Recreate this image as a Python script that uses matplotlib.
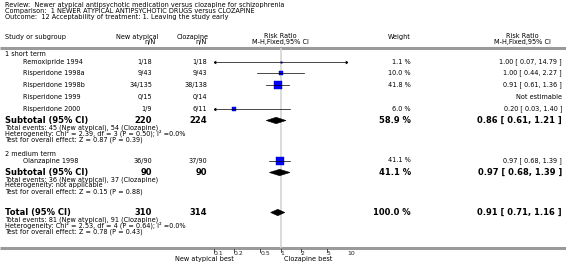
import matplotlib
matplotlib.use('Agg')
import matplotlib.pyplot as plt
from matplotlib.patches import Polygon
import numpy as np

W, H, DPI = 566, 272, 100

# ---------------- data ----------------
review = "Review:  Newer atypical antipsychotic medication versus clozapine for schizophrenia"
comparison = "Comparison:  1 NEWER ATYPICAL ANTIPSYCHOTIC DRUGS versus CLOZAPINE"
outcome = "Outcome:  12 Acceptability of treatment: 1. Leaving the study early"

groups = ["1 short term", "2 medium term"]
studies = [["Remoxipride 1994", "Risperidone 1998a", "Risperidone 1998b",
            "Risperidone 1999", "Risperidone 2000"], ["Olanzapine 1998"]]
new_nN = [["1/18", "9/43", "34/135", "0/15", "1/9"], ["36/90"]]
cloz_nN = [["1/18", "9/43", "38/138", "0/14", "6/11"], ["37/90"]]
weights = [[1.1, 10.0, 41.8, None, 6.0], [41.1]]
rr = [[1.00, 1.00, 0.91, None, 0.20], [0.97]]
rr_lo = [[0.07, 0.44, 0.61, None, 0.03], [0.68]]
rr_hi = [[14.79, 2.27, 1.36, None, 1.40], [1.39]]

sub_new_N = [220, 90]
sub_cloz_N = [224, 90]
sub_weight = [58.9, 41.1]
sub_rr = [0.86, 0.97]
sub_lo = [0.61, 0.68]
sub_hi = [1.21, 1.39]
sub_events = ["Total events: 45 (New atypical), 54 (Clozapine)",
              "Total events: 36 (New atypical), 37 (Clozapine)"]
sub_het = ["Heterogeneity: Chi² = 2.39, df = 3 (P = 0.50); I² =0.0%",
           "Heterogeneity: not applicable"]
sub_test = ["Test for overall effect: Z = 0.87 (P = 0.39)",
            "Test for overall effect: Z = 0.15 (P = 0.88)"]

total_new_N = 310
total_cloz_N = 314
total_weight = 100.0
total_rr, total_lo, total_hi = 0.91, 0.71, 1.16
total_events = "Total events: 81 (New atypical), 91 (Clozapine)"
total_het = "Heterogeneity: Chi² = 2.53, df = 4 (P = 0.64); I² =0.0%"
total_test = "Test for overall effect: Z = 0.78 (P = 0.43)"

ticks = [0.1, 0.2, 0.5, 1, 2, 5, 10]
tick_labels = ["0.1", "0.2", "0.5", "1", "2", "5", "10"]
left_label = "New atypical best"
right_label = "Clozapine best"

# ---------------- layout ----------------
group_y = [54.5, 153.5]
study_y = [[62, 73, 85, 97, 109], [160.5]]
sub_y = [120.5, 172.5]
stat_dy = [6.8, 13.0, 19.0]
total_y = 212.5

X_LEFT = 5
X_STUDY = 23
X_NEW = 152
X_NEWH = 158
X_CLOZ = 207
X_CLOZH = 209
X_WEIGHT = 411
X_RR = 562
X_RRH = 522
FX0, FX1 = 214, 347          # pixel span of 0.1 .. 10
AXIS_Y = 248

FS = 4.7
FSB = 6.0
TXT = '#000000'

fig = plt.figure(figsize=(W / DPI, H / DPI), dpi=DPI)
fig.patch.set_facecolor('white')
tx = fig.add_axes([0, 0, 1, 1])
tx.set_xlim(0, W)
tx.set_ylim(H, 0)
tx.axis('off')

ax = fig.add_axes([FX0 / W, 0, (FX1 - FX0) / W, 1])
ax.set_xscale('log')
ax.set_xlim(0.1, 10)
ax.set_ylim(H, 0)
ax.axis('off')
ax.patch.set_alpha(0)


def t(x, y, s, ha='left', bold=False, size=None, color=TXT):
    tx.text(x, y, s, ha=ha, va='center', fontsize=size or (FSB if bold else FS),
            fontweight='bold' if bold else 'normal', color=color)


# header
t(X_LEFT, 5, review)
t(X_LEFT, 11, comparison)
t(X_LEFT, 17, outcome)
t(X_LEFT, 37, "Study or subgroup")
t(X_NEWH, 36.5, "New atypical", ha='right')
t(X_NEWH - 2, 42, "n/N", ha='right')
t(X_CLOZH, 36.5, "Clozapine", ha='right')
t(X_CLOZH - 2, 42, "n/N", ha='right')
t(280.5, 36.5, "Risk Ratio", ha='center')
t(280.5, 42, "M-H,Fixed,95% CI", ha='center')
t(X_WEIGHT, 37, "Weight", ha='right')
t(X_RRH, 36.5, "Risk Ratio", ha='center')
t(X_RRH, 42, "M-H,Fixed,95% CI", ha='center')

tx.plot([0, W], [47.5, 47.5], color='#9a9a9a', lw=2.2, solid_capstyle='butt')
tx.plot([0, W], [AXIS_Y, AXIS_Y], color='#9a9a9a', lw=2.2, solid_capstyle='butt')

# line of no effect
ax.plot([1, 1], [49, AXIS_Y - 1], color='#d4d4d4', lw=1.2, zorder=1)


def diamond(est, lo, hi, y, h=6.4):
    ax.add_patch(Polygon([(lo, y), (est, y - h / 2), (hi, y), (est, y + h / 2)],
                         closed=True, facecolor='black', edgecolor='black', lw=0.4, zorder=4))


def rr_txt(e, l, h):
    return f"{e:.2f} [ {l:.2f}, {h:.2f} ]"


for g in range(len(groups)):
    t(X_LEFT, group_y[g], groups[g])
    for i, name in enumerate(studies[g]):
        y = study_y[g][i]
        t(X_STUDY, y, name)
        t(X_NEW, y, new_nN[g][i], ha='right')
        t(X_CLOZ, y, cloz_nN[g][i], ha='right')
        if rr[g][i] is None:
            t(X_RR, y, "Not estimable", ha='right')
            continue
        t(X_WEIGHT, y, f"{weights[g][i]:.1f} %", ha='right')
        t(X_RR, y, rr_txt(rr[g][i], rr_lo[g][i], rr_hi[g][i]), ha='right')
        side = max(1.5, 1.15 * np.sqrt(weights[g][i]))
        if weights[g][i] > 3:
            side = max(side, 3.8)
        ax.plot([rr[g][i]], [y], marker='s', ms=side * 0.72, color='#0000ff',
                mec='#0000aa', mew=0.3, zorder=3, ls='none')
        l = max(rr_lo[g][i], 0.1)
        h = min(rr_hi[g][i], 10)
        ax.plot([l, h], [y, y], color='black', lw=0.5, zorder=4)
        if rr_lo[g][i] < 0.1:
            ax.plot([0.1], [y], marker='<', ms=2.6, color='black', mew=0, zorder=4)
        if rr_hi[g][i] > 10:
            ax.plot([10], [y], marker='>', ms=2.6, color='black', mew=0, zorder=4)
    ys = sub_y[g]
    t(X_LEFT, ys, "Subtotal (95% CI)", bold=True)
    t(X_NEW, ys, str(sub_new_N[g]), ha='right', bold=True)
    t(X_CLOZ, ys, str(sub_cloz_N[g]), ha='right', bold=True)
    t(X_WEIGHT, ys, f"{sub_weight[g]:.1f} %", ha='right', bold=True)
    t(X_RR, ys, rr_txt(sub_rr[g], sub_lo[g], sub_hi[g]), ha='right', bold=True)
    diamond(sub_rr[g], sub_lo[g], sub_hi[g], ys)
    t(X_LEFT, ys + stat_dy[0], sub_events[g])
    t(X_LEFT, ys + stat_dy[1], sub_het[g])
    t(X_LEFT, ys + stat_dy[2], sub_test[g])

# total
t(X_LEFT, total_y, "Total (95% CI)", bold=True)
t(X_NEW, total_y, str(total_new_N), ha='right', bold=True)
t(X_CLOZ, total_y, str(total_cloz_N), ha='right', bold=True)
t(X_WEIGHT, total_y, f"{total_weight:.1f} %", ha='right', bold=True)
t(X_RR, total_y, rr_txt(total_rr, total_lo, total_hi), ha='right', bold=True)
diamond(total_rr, total_lo, total_hi, total_y)
t(X_LEFT, total_y + stat_dy[0], total_events)
t(X_LEFT, total_y + stat_dy[1], total_het)
t(X_LEFT, total_y + stat_dy[2], total_test)

# axis ticks
for v, lab in zip(ticks, tick_labels):
    ax.plot([v, v], [AXIS_Y + 0.5, AXIS_Y + 3.5], color='black', lw=0.5)
    ax.text(v, AXIS_Y + 5.5, lab, ha='left', va='center',
            fontsize=4.4, color='#222222')

ax.text(0.2, AXIS_Y + 11, left_label, ha='right', va='center', fontsize=FS, color=TXT)
ax.text(1.13, AXIS_Y + 11, right_label, ha='left', va='center', fontsize=FS, color=TXT)

fig.savefig('out.png', dpi=DPI, facecolor='white')
